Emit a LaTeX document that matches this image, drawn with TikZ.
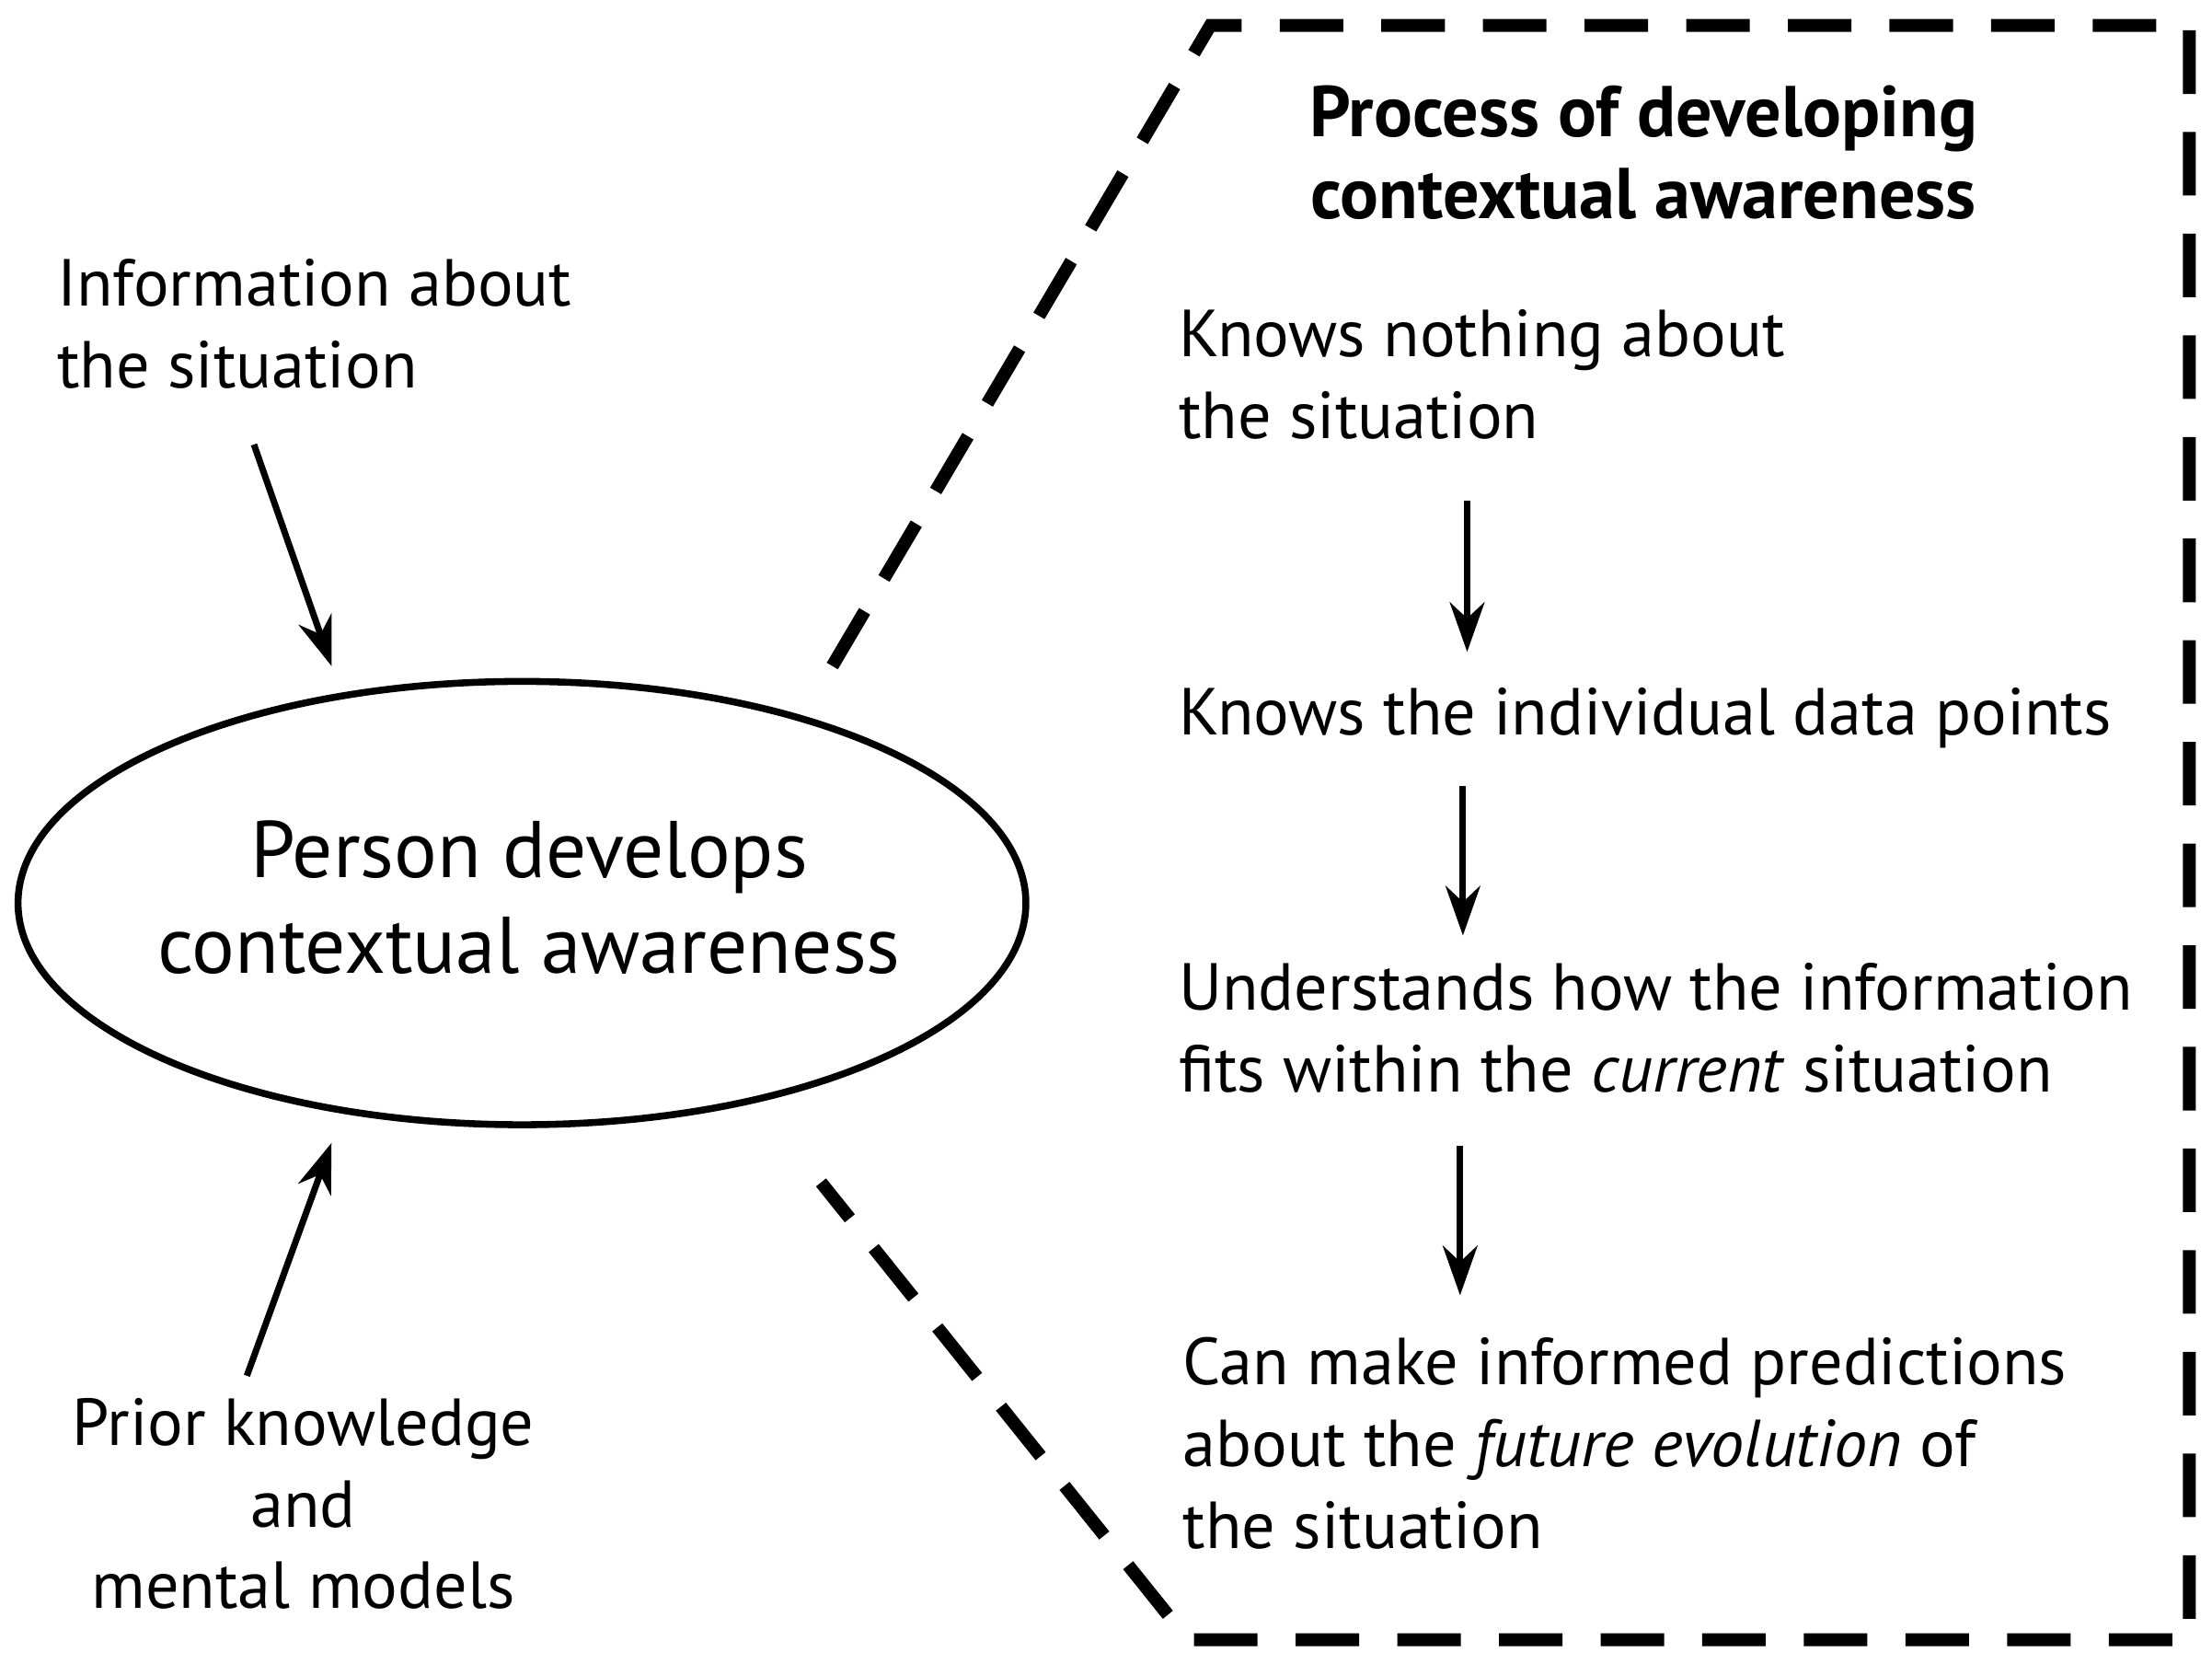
\documentclass[tikz,border=0pt]{standalone}
\usepackage{fontspec}
\setmainfont{PT Sans}
\usetikzlibrary{shapes.geometric,arrows.meta}
\begin{document}
\begin{tikzpicture}[x=0.01cm,y=-0.01cm,
  txt/.style={inner sep=0pt,font=\fontsize{13.4}{16.5}\selectfont,align=left},
  arr/.style={-{Stealth[length=10pt,width=7pt]},line width=1.3pt},
  dsh/.style={line width=2.6pt,dash pattern=on 0.45cm off 0.27cm}]
\useasboundingbox (0,0) rectangle (1568,1179);
\node[ellipse,draw,line width=1.4pt,inner sep=0pt,minimum width=7.14cm,minimum height=3.14cm] (ell) at (370,640) {};
\node[align=center,inner sep=0pt,font=\fontsize{16.2}{19.4}\selectfont] (ellt) at (375,636) {Person develops\\contextual awareness};
\node[txt,anchor=north west] (info) at (40,183) {Information about\\the situation};
\node[txt,align=center,anchor=north] (prior) at (215,990) {Prior knowledge\\and\\mental models};
\coordinate (a1s) at (180,315); \coordinate (a1e) at (235,472);
\coordinate (a2s) at (175,975); \coordinate (a2e) at (235,810);
\draw[arr] (a1s) -- (a1e);
\draw[arr] (a2s) -- (a2e);
\coordinate (p1) at (590,472); \coordinate (p2) at (858,18); \coordinate (p3) at (1552,18);
\coordinate (p4) at (1552,1162); \coordinate (p5) at (842,1162); \coordinate (p6) at (582,838);
\draw[dsh] (p1) -- (p2) -- (p3) -- (p4) -- (p5) -- (p6);
\node[align=center,inner sep=0pt,font=\fontsize{14.5}{16.5}\selectfont\bfseries] (title) at (1165,108) {Process of developing\\contextual awareness};
\node[txt,anchor=north west] (s1) at (835,219) {Knows nothing about\\the situation};
\node[txt,anchor=north west] (s2) at (835,487) {Knows the individual data points};
\node[txt,anchor=north west] (s3) at (835,682) {Understands how the information\\fits within the \textit{current} situation};
\node[txt,anchor=north west] (s4) at (838,947) {Can make informed predictions\\about the \textit{future evolution} of\\the situation};
\coordinate (b1s) at (1040,355); \coordinate (b1e) at (1040,462);
\coordinate (b2s) at (1037,557); \coordinate (b2e) at (1037,663);
\coordinate (b3s) at (1035,812); \coordinate (b3e) at (1035,918);
\draw[arr] (b1s) -- (b1e);
\draw[arr] (b2s) -- (b2e);
\draw[arr] (b3s) -- (b3e);
\end{tikzpicture}
\end{document}
